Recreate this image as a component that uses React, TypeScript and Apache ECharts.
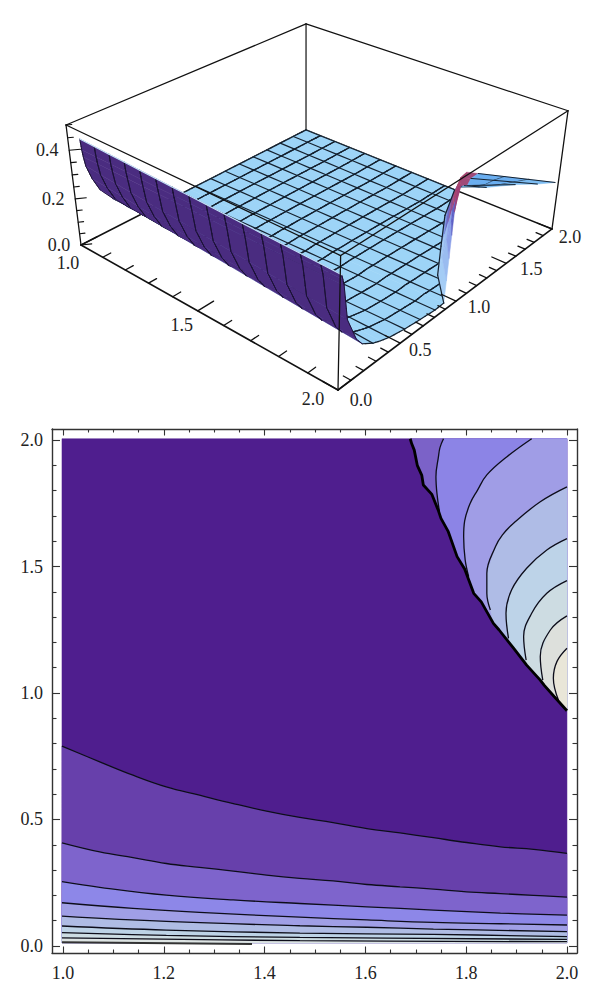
import React, { useEffect, useRef } from "react";
import * as echarts from "echarts";

// ---------- lower panel: contour levels, [x, y] ----------
const xMajorTicks = [1.0, 1.2, 1.4, 1.6, 1.8, 2.0];
const xMinorTicks = [1.05, 1.1, 1.15, 1.25, 1.3, 1.35, 1.45, 1.5, 1.55, 1.65, 1.7, 1.75, 1.85, 1.9, 1.95];
const yMajorTicks = [0.0, 0.5, 1.0, 1.5, 2.0];
const yMinorTicks = [0.1, 0.2, 0.3, 0.4, 0.6, 0.7, 0.8, 0.9, 1.1, 1.2, 1.3, 1.4, 1.6, 1.7, 1.8, 1.9];

const lowContour1 = [[0.998, 0.79], [1.073, 0.728], [1.139, 0.675], [1.205, 0.629], [1.271, 0.596], [1.338, 0.563], [1.404, 0.533], [1.47, 0.508], [1.536, 0.488], [1.603, 0.464], [1.669, 0.447], [1.735, 0.428], [1.801, 0.409], [1.868, 0.392], [1.934, 0.382], [2, 0.366]];
const lowContour2 = [[0.998, 0.408], [1.073, 0.372], [1.139, 0.349], [1.205, 0.326], [1.271, 0.311], [1.338, 0.296], [1.404, 0.28], [1.47, 0.267], [1.536, 0.257], [1.603, 0.243], [1.669, 0.234], [1.735, 0.225], [1.801, 0.214], [1.868, 0.207], [1.934, 0.2], [2, 0.193]];
const lowContour3 = [[0.998, 0.254], [1.073, 0.232], [1.205, 0.201], [1.338, 0.182], [1.47, 0.168], [1.603, 0.155], [1.735, 0.142], [1.868, 0.13], [2, 0.122]];
const lowContour4 = [[0.998, 0.171], [1.139, 0.149], [1.271, 0.133], [1.47, 0.114], [1.603, 0.103], [1.735, 0.093], [1.868, 0.088], [2, 0.083]];
const lowContour5 = [[0.998, 0.118], [1.205, 0.097], [1.47, 0.08], [1.603, 0.074], [1.735, 0.067], [2, 0.057]];
const lowContour6 = [[0.998, 0.079], [1.205, 0.063], [1.47, 0.051], [1.735, 0.046], [2, 0.037]];
const lowContour7 = [[0.998, 0.053], [1.205, 0.042], [1.47, 0.034], [2, 0.026]];
const lowContour8 = [[0.998, 0.032], [1.47, 0.021], [2, 0.017]];
const lowContour9 = [[0.998, 0.0145], [1.375, 0.008]];

const ridgeBoundary = [[1.689, 2.005], [1.692, 1.985], [1.697, 1.96], [1.703, 1.9], [1.712, 1.86], [1.715, 1.822], [1.732, 1.785], [1.745, 1.72], [1.75, 1.69], [1.764, 1.64], [1.782, 1.539], [1.797, 1.49], [1.815, 1.394], [1.83, 1.36], [1.854, 1.275], [1.865, 1.25], [1.894, 1.177], [1.92, 1.11], [1.947, 1.051], [1.955, 1.03], [1.975, 0.985], [2, 0.93]];
const upperContourA = [[1.755, 2.005], [1.748, 1.97], [1.745, 1.934], [1.74, 1.855], [1.742, 1.789], [1.747, 1.717]];
const upperContourB = [[1.93, 2.005], [1.881, 1.934], [1.841, 1.862], [1.822, 1.8], [1.808, 1.75], [1.797, 1.68], [1.795, 1.618], [1.798, 1.526], [1.805, 1.46]];
const upperContourC = [[2, 1.815], [1.947, 1.756], [1.894, 1.671], [1.872, 1.625], [1.858, 1.578], [1.841, 1.473], [1.841, 1.394], [1.848, 1.328]];
const upperContourD = [[2, 1.61], [1.96, 1.565], [1.92, 1.493], [1.89, 1.407], [1.879, 1.315], [1.884, 1.216]];
const upperContourE = [[2, 1.444], [1.96, 1.394], [1.93, 1.315], [1.914, 1.223], [1.919, 1.13]];
const upperContourF = [[2, 1.305], [1.967, 1.249], [1.947, 1.144], [1.952, 1.051]];
const upperContourG = [[2, 1.177], [1.98, 1.124], [1.973, 1.058], [1.983, 0.972]];

const lowContours = [lowContour1, lowContour2, lowContour3, lowContour4, lowContour5, lowContour6, lowContour7, lowContour8];
const upperContours = [upperContourA, upperContourB, upperContourC, upperContourD, upperContourE, upperContourF, upperContourG];
const baseColor = "#4f1e8e";
const lowColors = ["#6740ab", "#7e64cc", "#8d87e8", "#a09fe6", "#afbce4", "#bdd3e6", "#cddde3", "#dde4e3"];
const upperColors = ["#7b62c8", "#8c84e6", "#a09de6", "#afbce6", "#bdd3e8", "#cddce2", "#dde0dc", "#e9e6d8"];

// ---------- upper panel: surface ----------
// rows from the steep front wall to the far side; 1 = at x=1, 2 = at the right end of the row
const surfaceY1 = [0.08, 0.085, 0.09, 0.1, 0.133, 0.18, 0.267, 0.33, 0.4, 0.533, 0.667, 0.8, 0.88, 0.933, 1.067, 1.2, 1.333, 1.467, 1.6, 1.733, 1.867, 2.0];
const surfaceZ1 = [0.425, 0.38, 0.35, 0.31, 0.25, 0.19, 0.128, 0.09, 0.055, 0.01, 0.002, 0, 0, 0, 0, 0, 0, 0, 0, 0, 0, 0];
const surfaceY2 = [0.01, 0.02, 0.03, 0.06, 0.133, 0.18, 0.267, 0.33, 0.4, 0.533, 0.667, 0.8, 0.88, 0.933, 1.067, 1.2, 1.333, 1.467, 1.6, 1.733, 1.867, 2.0];
const surfaceZ2 = [0.43, 0.41, 0.385, 0.25, 0.15, 0.115, 0.085, 0.072, 0.06, 0.046, 0.038, 0.031, 0.033, 0.03, 0.025, 0.02, 0.015, 0.01, 0.005, 0, 0, 0];
const surfaceXEnd = [2, 2, 2, 2, 2, 2, 2, 2, 2, 2, 2, 2, 2, 1.976, 1.915, 1.868, 1.825, 1.783, 1.741, 1.702, 1.671, 1.64];
const meshRows = [4, 6, 8, 9, 10, 11, 13, 14, 15, 16, 17, 18, 19, 20, 21];
const meshColumns = [1, 1.0667, 1.1333, 1.2, 1.2667, 1.3333, 1.4, 1.4667, 1.5333, 1.6, 1.6667, 1.7333, 1.8, 1.8667, 1.9333, 2];

const ridgeBase = [[1.64, 2, 0], [1.71, 1.7, 0], [1.804, 1.4, 0], [1.9, 1.1, 0.02], [2, 0.88, 0.033]];
const ridgeCrest = [[1.68, 2, 0.1], [1.74, 1.75, 0.17], [1.82, 1.5, 0.24], [1.92, 1.2, 0.37], [2, 0.92, 0.475]];
const tailEdge = [[2, 1.96, 0.215], [2, 1.75, 0.265], [2, 1.5, 0.33], [2, 1.2, 0.4], [2, 0.98, 0.465]];
const tailLevels = [0, 0.14, 0.45, 0.72, 1];
const tailColors = ["#a04a78", "#6aaef0", "#6aaef0", "#7cbcf2"];
const ridgeColorsFar = ["#7f9ee6", "#6a68c4", "#8e4f90", "#a8456f", "#a8456f"];
const ridgeColorsNear = ["#a4ccf5", "#9abcf0", "#8a9fe8", "#5d60c6", "#a03f74"];

const axis3dXTicks = [1.0, 1.1, 1.2, 1.3, 1.4, 1.5, 1.6, 1.7, 1.8, 1.9, 2.0];
const axis3dYTicks = [0.0, 0.1, 0.2, 0.3, 0.4, 0.5, 0.6, 0.7, 0.8, 0.9, 1.0, 1.1, 1.2, 1.3, 1.4, 1.5, 1.6, 1.7, 1.8, 1.9, 2.0];
const axis3dZTicks = [0.0, 0.05, 0.1, 0.15, 0.2, 0.25, 0.3, 0.35, 0.4, 0.45, 0.5];
const axis3dLabels = [
  { text: "1.0", at: [1.0, 0, 0], off: [-13, 18] },
  { text: "1.5", at: [1.5, 0, 0], off: [-16, 14] },
  { text: "2.0", at: [2.0, 0, 0], off: [-25, 9] },
  { text: "0.0", at: [2.0, 0, 0], off: [23, 10] },
  { text: "0.5", at: [2.0, 0.5, 0], off: [20, 7] },
  { text: "1.0", at: [2.0, 1.0, 0], off: [23, 6] },
  { text: "1.5", at: [2.0, 1.5, 0], off: [25, 6] },
  { text: "2.0", at: [2.0, 2.0, 0], off: [18, 8] },
  { text: "0.0", at: [1.0, 0, 0], off: [-22, 0] },
  { text: "0.2", at: [1.0, 0, 0.2], off: [-22, 0] },
  { text: "0.4", at: [1.0, 0, 0.4], off: [-22, 0] },
];

const FONT = "Liberation Serif";
const INK = "#222222";
const LIGHT = "#9dd4f7";
const DARK = "#4a2c80";
const MESH = "#14202e";

const lerp = (a: number, b: number, f: number) => a + (b - a) * f;

// perspective of the box: floor corners and top corners fit from the picture
function project(x: number, y: number, z: number) {
  const s = x - 1, t = y / 2, w = z / 0.5;
  const d = -0.1682 * s + 0.1911 * t + 1 - 0.0625 * w;
  return [
    (200.15 * s + 283.5 * t + 81 - 19.1 * w) / d,
    (79.4 * s - 90.2 * t + 245 - 127.8 * w) / d,
  ];
}

const lastRow = surfaceY1.length - 1;
function rowPoint(r: number, x: number) {
  const a = Math.min(1, (x - 1) / (surfaceXEnd[r] - 1));
  return [lerp(surfaceY1[r], surfaceY2[r], a), lerp(surfaceZ1[r], surfaceZ2[r], a)];
}
function surfacePoint(x: number, rho: number) {
  const r = Math.min(Math.floor(rho), lastRow - 1);
  const f = rho - r;
  const p0 = rowPoint(r, x), p1 = rowPoint(r + 1, x);
  return project(x, lerp(p0[0], p1[0], f), lerp(p0[1], p1[1], f));
}

type Api = { coord: (v: number[]) => number[] };

function poly(api: Api, pts: number[][], fill: string) {
  return {
    type: "polygon",
    shape: { points: pts.map((p) => api.coord(p)) },
    style: { fill, stroke: fill, lineWidth: 0.5 },
  };
}
function seg(api: Api, a: number[], b: number[], stroke: string, lineWidth: number) {
  const p = api.coord(a), q = api.coord(b);
  return {
    type: "line",
    shape: { x1: p[0], y1: p[1], x2: q[0], y2: q[1] },
    style: { stroke, lineWidth, lineCap: "round" },
  };
}
function area(p: number[][]) {
  let sum = 0;
  for (let i = 0; i < p.length; i++) {
    const q = p[(i + 1) % p.length];
    sum += p[i][0] * q[1] - q[0] * p[i][1];
  }
  return sum / 2;
}

function surfaceChildren(api: Api) {
  const out: any[] = [];
  for (let r = lastRow - 1; r >= 0; r--) {
    const lines: any[] = [];
    const xbound = (rho: number) => lerp(surfaceXEnd[r], surfaceXEnd[r + 1], rho - r);
    for (let c = 0; c < meshColumns.length - 1; c++) {
      const cx0 = meshColumns[c], cx1 = meshColumns[c + 1];
      const corners = [[cx0, r], [cx1, r], [cx1, r + 1], [cx0, r + 1]];
      const clipped: number[][] = [];
      corners.forEach((a, i) => {
        const b = corners[(i + 1) % 4];
        const da = xbound(a[1]) - a[0], db = xbound(b[1]) - b[0];
        if (da >= 0) clipped.push(a);
        if ((da >= 0) !== (db >= 0)) {
          const f = da / (da - db);
          clipped.push([lerp(a[0], b[0], f), lerp(a[1], b[1], f)]);
        }
      });
      if (clipped.length < 3) continue;
      const pts = clipped.map((p) => surfacePoint(p[0], p[1]));
      const front = area(pts) < 0;
      out.push(poly(api, pts, front ? LIGHT : DARK));
      // column lines
      [cx0, cx1].forEach((cx) => {
        const e0 = xbound(r), e1 = xbound(r + 1);
        if (cx > e0) return;
        const rhoEnd = cx <= e1 ? r + 1 : r + (e0 - cx) / (e0 - e1);
        const n = 3;
        for (let k = 0; k < n; k++) {
          lines.push(seg(api, surfacePoint(cx, lerp(r, rhoEnd, k / n)), surfacePoint(cx, lerp(r, rhoEnd, (k + 1) / n)), front ? MESH : "#1b1236", front ? 1.2 : 1));
        }
      });
      // far row line
      if (meshRows.includes(r + 1) && front) {
        const e = surfaceXEnd[r + 1];
        if (cx0 < e) {
          lines.push(seg(api, surfacePoint(cx0, r + 1 - 1e-6), surfacePoint(Math.min(cx1, e), r + 1 - 1e-6), MESH, 1.2));
        }
      }
    }
    out.push(...lines);
  }
  // pale rim along the top of the front wall
  for (let c = 0; c < meshColumns.length - 1; c++) {
    out.push(seg(api, surfacePoint(meshColumns[c], 0), surfacePoint(meshColumns[c + 1], 0), "#c4e3f8", 1.1));
  }
  return out;
}

function ridgeChildren(api: Api) {
  const out: any[] = [];
  const at = (a: number[], b: number[], f: number) => project(lerp(a[0], b[0], f), lerp(a[1], b[1], f), lerp(a[2], b[2], f));
  // far surface behind the crest
  for (let i = 0; i < ridgeCrest.length - 1; i++) {
    tailColors.forEach((color, l) => {
      const f0 = tailLevels[l], f1 = tailLevels[l + 1];
      out.push(poly(api, [at(ridgeCrest[i], tailEdge[i], f0), at(ridgeCrest[i], tailEdge[i], f1), at(ridgeCrest[i + 1], tailEdge[i + 1], f1), at(ridgeCrest[i + 1], tailEdge[i + 1], f0)], color));
      if (l > 0 && l < tailColors.length - 1) {
        out.push(seg(api, at(ridgeCrest[i], tailEdge[i], f1), at(ridgeCrest[i + 1], tailEdge[i + 1], f1), MESH, 1.2));
      }
    });
    out.push(seg(api, at(ridgeCrest[i], tailEdge[i], 0.14), at(ridgeCrest[i], tailEdge[i], 1), MESH, 1));
  }
  // rising face between the flat part and the crest
  for (let i = 0; i < ridgeBase.length - 1; i++) {
    const colors = i < 2 ? ridgeColorsFar : ridgeColorsNear;
    colors.forEach((color, l) => {
      const f0 = l / colors.length, f1 = (l + 1) / colors.length;
      out.push(poly(api, [at(ridgeBase[i], ridgeCrest[i], f0), at(ridgeBase[i], ridgeCrest[i], f1), at(ridgeBase[i + 1], ridgeCrest[i + 1], f1), at(ridgeBase[i + 1], ridgeCrest[i + 1], f0)], color));
    });
  }
  for (let i = 0; i < ridgeBase.length - 1; i++) {
    out.push(seg(api, at(ridgeBase[i], ridgeCrest[i], 0), at(ridgeBase[i + 1], ridgeCrest[i + 1], 0), MESH, 1.2));
  }
  return out;
}

const corner = (x: number, y: number, top: boolean) => project(x, y, top ? 0.5 : 0);

function boxBackChildren(api: Api) {
  const s = "#111111", w = 1.2;
  return [
    seg(api, corner(1, 2, true), corner(1, 2, false), s, w),
    seg(api, corner(1, 0, true), corner(1, 2, true), s, w),
    seg(api, corner(1, 2, true), corner(2, 2, true), s, w),
    seg(api, corner(1, 0, false), corner(1, 2, false), s, 1.5),
    seg(api, corner(1, 2, false), corner(2, 2, false), s, 1.5),
  ];
}

function boxFrontChildren(api: Api) {
  const s = "#111111", w = 1.3;
  const out: any[] = [
    seg(api, corner(1, 0, true), corner(2, 0, true), s, w),
    seg(api, corner(2, 0, true), corner(2, 2, true), s, w),
    seg(api, corner(2, 0, true), corner(2, 0, false), s, w),
    seg(api, corner(2, 2, true), corner(2, 2, false), s, w),
    seg(api, corner(1, 0, true), corner(1, 0, false), s, w),
    seg(api, corner(1, 0, false), corner(2, 0, false), s, 1.6),
    seg(api, corner(2, 0, false), corner(2, 2, false), s, 1.6),
  ];
  axis3dXTicks.forEach((v, i) => {
    const len = i % 5 === 0 ? 0.12 : 0.06;
    out.push(seg(api, project(v, 0, 0), project(v, len, 0), s, 1.3));
  });
  axis3dYTicks.forEach((v, i) => {
    const len = i % 5 === 0 ? 0.05 : 0.025;
    out.push(seg(api, project(2, v, 0), project(2 - len, v, 0), s, 1.3));
  });
  axis3dZTicks.forEach((v, i) => {
    const len = i % 4 === 0 ? 0.05 : 0.025;
    out.push(seg(api, project(1, 0, v), project(1 + len * 0.38, len, v), s, 1.1));
  });
  return out;
}

function labelChildren(api: Api) {
  return axis3dLabels.map((l) => {
    const p = api.coord(project(l.at[0], l.at[1], l.at[2]));
    return {
      type: "text",
      style: {
        text: l.text,
        x: p[0] + l.off[0],
        y: p[1] + l.off[1],
        fontFamily: FONT,
        fontSize: 18,
        fill: INK,
        align: "center",
        verticalAlign: "middle",
      },
    };
  });
}

function fillChildren(api: Api) {
  const out: any[] = [];
  const left = 0.998, right = 2, top = 2.005, floor = 0.013;
  out.push(poly(api, [[left, top], [right, top], [right, floor], [left, floor]], baseColor));
  lowContours.forEach((curve, i) => {
    out.push(poly(api, [...curve, [right, floor], [left, floor]], lowColors[i]));
  });
  out.push(poly(api, [...ridgeBoundary, [right, top]], upperColors[0]));
  upperContours.forEach((curve, i) => {
    const end = curve[curve.length - 1];
    const rest = ridgeBoundary.filter((p) => p[1] < end[1]);
    const first = curve[0];
    const closing = first[1] > 2 ? [[right, top]] : [];
    out.push(poly(api, [...curve, ...rest, ...closing], upperColors[i + 1]));
  });
  return out;
}

const tick = (major: boolean, values: number[], position: string, gridIndex: number, labels: boolean) => {
  const horizontal = position === "top" || position === "bottom";
  return {
    type: "value",
    gridIndex,
    position,
    min: horizontal ? 0.9782 : -0.0277,
    max: horizontal ? 2.0199 : 2.0435,
    axisLine: { show: major, onZero: false, lineStyle: { color: "#333333", width: 1.4 } },
    axisTick: {
      show: true,
      inside: true,
      customValues: values,
      length: horizontal ? (major ? 6.5 : 3.5) : major ? 8 : 4.5,
      lineStyle: { color: "#333333", width: 1.1 },
    },
    axisLabel: labels
      ? {
          show: true,
          customValues: values,
          margin: horizontal ? 11 : 9,
          fontFamily: FONT,
          fontSize: 18,
          color: INK,
          formatter: (v: number) => v.toFixed(1),
        }
      : { show: false },
    splitLine: { show: false },
    minorTick: { show: false },
  };
};

const contourLine = (data: number[][], width: number, color = "#0d0d1a", smooth: number | boolean = 0.4) => ({
  type: "line",
  xAxisIndex: 1,
  yAxisIndex: 1,
  data,
  showSymbol: false,
  symbol: "none",
  smooth,
  clip: false,
  silent: true,
  z: 5,
  lineStyle: { color, width },
});

const panel = (renderChildren: (api: Api) => any[], xAxisIndex: number, yAxisIndex: number, z: number) => ({
  type: "custom",
  xAxisIndex,
  yAxisIndex,
  data: [[1, 1]],
  silent: true,
  clip: false,
  z,
  renderItem: (_p: unknown, api: Api) => ({ type: "group", children: renderChildren(api) }),
});

export default function App() {
  const ref = useRef<HTMLDivElement>(null);
  useEffect(() => {
    if (!ref.current) return;
    const chart = echarts.init(ref.current, undefined, { renderer: "svg" });
    const hidden = { type: "value", gridIndex: 0, show: false };
    chart.setOption({
      animation: false,
      backgroundColor: "#ffffff",
      grid: [
        { left: 0, top: 0, width: 600, height: 420 },
        { left: 52, top: 429, width: 525, height: 524 },
        { left: 52, top: 429, width: 525, height: 524 },
      ],
      xAxis: [
        { ...hidden, min: 0, max: 600 },
        tick(true, xMajorTicks, "bottom", 1, true),
        tick(true, xMajorTicks, "top", 1, false),
        tick(false, xMinorTicks, "bottom", 2, false),
        tick(false, xMinorTicks, "top", 2, false),
      ],
      yAxis: [
        { ...hidden, min: 0, max: 420, inverse: true },
        tick(true, yMajorTicks, "left", 1, true),
        tick(true, yMajorTicks, "right", 1, false),
        tick(false, yMinorTicks, "left", 2, false),
        tick(false, yMinorTicks, "right", 2, false),
      ],
      series: [
        panel(boxBackChildren, 0, 0, 1),
        panel(surfaceChildren, 0, 0, 2),
        panel(ridgeChildren, 0, 0, 3),
        panel(boxFrontChildren, 0, 0, 4),
        panel(labelChildren, 0, 0, 5),
        panel(fillChildren, 1, 1, 2),
        ...lowContours.map((c) => contourLine(c, 1.3)),
        contourLine(lowContour9, 2, "#333333"),
        ...upperContours.map((c) => contourLine(c, 1.3)),
        contourLine(ridgeBoundary, 2.8, "#000000", false),
      ],
    });
    return () => chart.dispose();
  }, []);
  return (
    <div
      ref={ref}
      style={{ position: "absolute", left: 0, top: 0, width: 600, height: 1005, background: "#ffffff" }}
    />
  );
}
